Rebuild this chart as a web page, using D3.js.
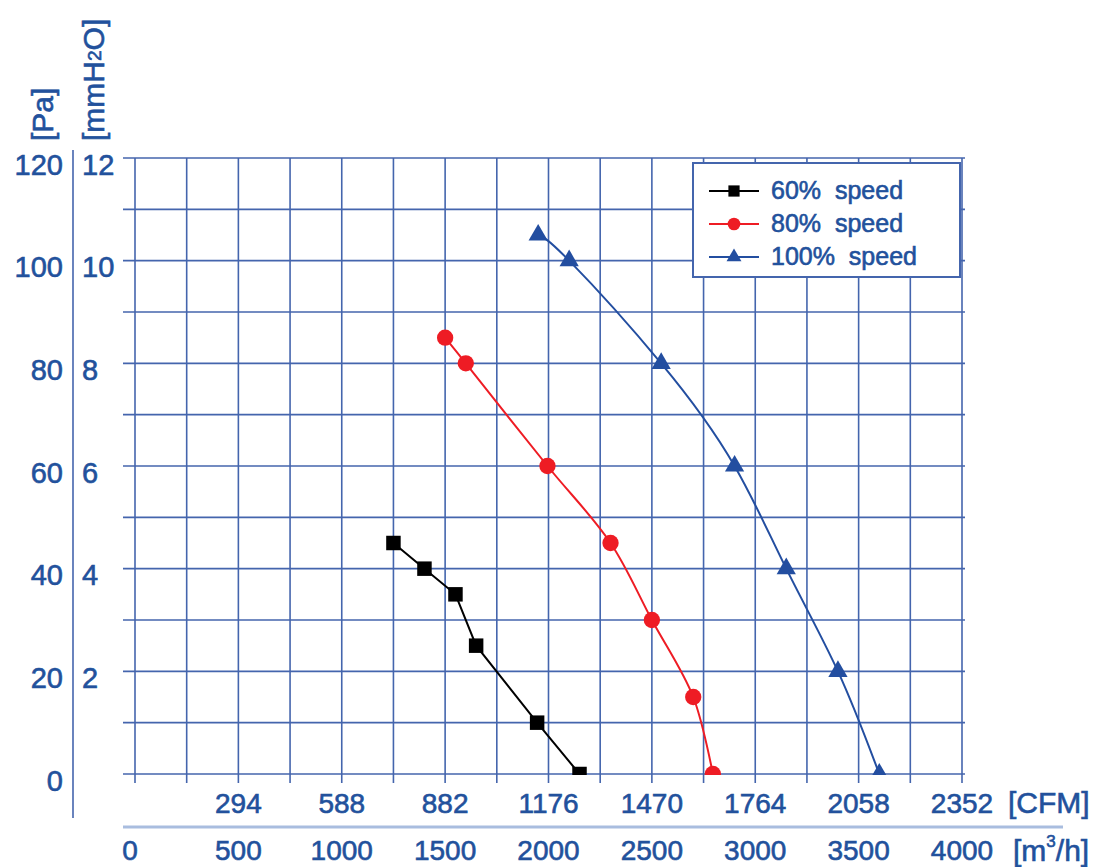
<!DOCTYPE html>
<html>
<head>
<meta charset="utf-8">
<script src="https://cdn.jsdelivr.net/npm/d3@7"></script>
<style>
  body { margin: 0; background: #fff; }
  svg { font-family: "Liberation Sans", Arial, sans-serif; }
  .lbl { stroke: #22519c; stroke-width: 0.6px; }
</style>
</head>
<body>
<svg id="chart" width="1107" height="867"></svg>
<script>
// fan curves, flow in m3/h, static pressure in Pa
const series = ["60%  speed", "80%  speed", "100%  speed"];
const flow60 = [1250, 1400, 1550, 1650, 1945, 2150];
const pa60 = [45, 40, 35, 25, 10, 0];
const flow80 = [1500, 1600, 1995, 2300, 2500, 2700, 2795];
const pa80 = [85, 80, 60, 45, 30, 15, 0];
const flow100 = [1950, 2100, 2545, 2900, 3150, 3400, 3600];
const pa100 = [105, 100, 80, 60, 40, 20, 0];

const paTicks = [0, 20, 40, 60, 80, 100, 120];
const mmTicks = [2, 4, 6, 8, 10, 12];
const m3hTicks = [0, 500, 1000, 1500, 2000, 2500, 3000, 3500, 4000];
const cfmTicks = [294, 588, 882, 1176, 1470, 1764, 2058, 2352];

const textColor = "#22519c";
const gridColor = "#4465ad";

const svg = d3.select("#chart");
const margin = { left: 135, right: 145, top: 158, bottom: 93 };
const width = 1107 - margin.left - margin.right;
const height = 867 - margin.top - margin.bottom;

const x = d3.scaleLinear().domain([0, 4000]).range([0, width]);
const xCfm = d3.scaleLinear().domain([0, 2352]).range([0, width]);
const y = d3.scaleLinear().domain([0, 120]).range([height, 0]);
const yMm = d3.scaleLinear().domain([0, 12]).range([height, 0]);

const g = svg.append("g")
  .attr("transform", "translate(" + margin.left + "," + margin.top + ")");

// grid
g.append("g")
  .selectAll("line")
  .data(d3.range(0, 4001, 250))
  .join("line")
  .attr("x1", (d) => x(d))
  .attr("x2", (d) => x(d))
  .attr("y1", 0)
  .attr("y2", height + 9)
  .attr("stroke", gridColor)
  .attr("stroke-width", 1.6);

g.append("g")
  .selectAll("line")
  .data(d3.range(0, 121, 10))
  .join("line")
  .attr("x1", -12)
  .attr("x2", width + 3)
  .attr("y1", (d) => y(d))
  .attr("y2", (d) => y(d))
  .attr("stroke", gridColor)
  .attr("stroke-width", 1.6);

// left axis labels
const leftAxis = svg.append("g")
  .attr("class", "lbl")
  .attr("fill", textColor)
  .attr("font-size", 29);

leftAxis.selectAll(".pa")
  .data(paTicks)
  .join("text")
  .attr("class", "pa")
  .attr("x", 63)
  .attr("y", (d) => margin.top + y(d) + 9)
  .attr("text-anchor", "end")
  .attr("dominant-baseline", "middle")
  .text((d) => d);

leftAxis.selectAll(".mm")
  .data(mmTicks)
  .join("text")
  .attr("class", "mm")
  .attr("x", 82)
  .attr("y", (d) => margin.top + yMm(d) + 9)
  .attr("dominant-baseline", "middle")
  .text((d) => d);

svg.append("line")
  .attr("x1", 73).attr("x2", 73)
  .attr("y1", 150).attr("y2", 818)
  .attr("stroke", gridColor)
  .attr("stroke-width", 1.6);

leftAxis.append("text")
  .attr("transform", "translate(53,141) rotate(-90)")
  .attr("font-size", 30)
  .text("[Pa]");

const mmTitle = leftAxis.append("text")
  .attr("font-size", 30)
  .attr("transform", "translate(104,141) rotate(-90)");
mmTitle.append("tspan").text("[mmH");
mmTitle.append("tspan").attr("font-size", 19).attr("dy", -3).text("2");
mmTitle.append("tspan").attr("dy", 3).text("O]");

// bottom axes
const bottom = svg.append("g")
  .attr("class", "lbl")
  .attr("fill", textColor)
  .attr("font-size", 28);

bottom.selectAll(".cfm")
  .data(cfmTicks)
  .join("text")
  .attr("class", "cfm")
  .attr("x", (d) => margin.left + xCfm(d))
  .attr("y", 806)
  .attr("text-anchor", "middle")
  .attr("dominant-baseline", "middle")
  .text((d) => d);

bottom.append("text")
  .attr("x", 1008)
  .attr("y", 805)
  .attr("font-size", 30)
  .attr("dominant-baseline", "middle")
  .text("[CFM]");

svg.append("line")
  .attr("x1", 123).attr("x2", 1063)
  .attr("y1", 827).attr("y2", 827)
  .attr("stroke", "#a9bddf")
  .attr("stroke-width", 3);

bottom.selectAll(".m3h")
  .data(m3hTicks)
  .join("text")
  .attr("class", "m3h")
  .attr("x", (d) => margin.left + x(d) - (d === 0 ? 5 : 0))
  .attr("y", 853)
  .attr("text-anchor", "middle")
  .attr("dominant-baseline", "middle")
  .text((d) => d);

const m3hTitle = bottom.append("text")
  .attr("x", 1013)
  .attr("y", 853)
  .attr("font-size", 30)
  .attr("dominant-baseline", "middle");
m3hTitle.append("tspan").text("[m");
m3hTitle.append("tspan").attr("font-size", 17).attr("dy", -10).text("3");
m3hTitle.append("tspan").attr("dy", 10).text("/h]");

// curves
const curveData = [
  { name: series[0], color: "#000000", shape: d3.symbolSquare, size: 210, curve: d3.curveLinear,
    points: flow60.map((f, i) => ({ f: f, p: pa60[i] })) },
  { name: series[1], color: "#ee1c24", shape: d3.symbolCircle, size: 210, curve: d3.curveCatmullRom,
    points: flow80.map((f, i) => ({ f: f, p: pa80[i] })) },
  { name: series[2], color: "#234ea0", shape: d3.symbolTriangle, size: 160, curve: d3.curveNatural,
    points: flow100.map((f, i) => ({ f: f, p: pa100[i] })) },
];

g.append("clipPath")
  .attr("id", "plot-clip")
  .append("rect")
  .attr("x", -20).attr("y", -20)
  .attr("width", width + 40).attr("height", height + 21);

const plot = g.append("g").attr("clip-path", "url(#plot-clip)");

curveData.forEach((s) => {
  const line = d3.line()
    .x((d) => x(d.f))
    .y((d) => y(d.p))
    .curve(s.curve);

  plot.append("path")
    .datum(s.points)
    .attr("fill", "none")
    .attr("stroke", s.color)
    .attr("stroke-width", 2)
    .attr("d", line);

  plot.selectAll(null)
    .data(s.points)
    .join("path")
    .attr("transform", (d) => "translate(" + x(d.f) + "," + y(d.p) + ")")
    .attr("d", d3.symbol().type(s.shape).size(s.size))
    .attr("fill", s.color);
});

// legend
const legend = svg.append("g").attr("transform", "translate(693,163)");
legend.append("rect")
  .attr("width", 267)
  .attr("height", 114)
  .attr("fill", "#fff")
  .attr("stroke", gridColor)
  .attr("stroke-width", 2);

const items = legend.selectAll(".item")
  .data(curveData)
  .join("g")
  .attr("class", "item")
  .attr("transform", (d, i) => "translate(0," + (28 + i * 33) + ")");

items.append("line")
  .attr("x1", 16).attr("x2", 66)
  .attr("stroke", (d) => d.color)
  .attr("stroke-width", 2);

items.append("path")
  .attr("transform", "translate(41,0)")
  .attr("d", (d) => d3.symbol().type(d.shape).size(d.size * 0.6)())
  .attr("fill", (d) => d.color);

items.append("text")
  .attr("class", "lbl")
  .attr("x", 78)
  .attr("y", 1)
  .attr("dominant-baseline", "middle")
  .attr("fill", textColor)
  .attr("font-size", 25)
  .style("white-space", "pre")
  .text((d) => d.name);
</script>
</body>
</html>
